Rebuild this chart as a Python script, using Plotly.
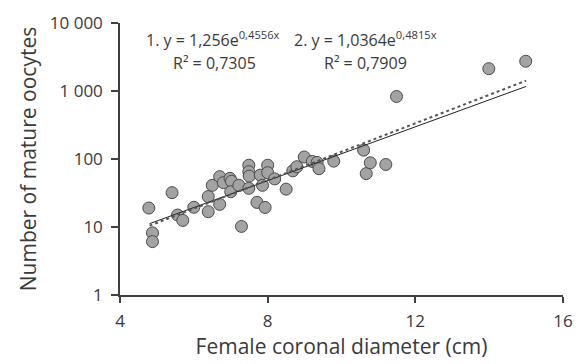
import numpy as np
import plotly.graph_objects as go

# Data
diameter_cm = [4.78, 4.88, 4.88, 5.41, 5.56, 5.70, 6.00, 6.39, 6.39, 6.50,
               6.70, 6.70, 6.80, 6.98, 7.02, 7.00, 7.22, 7.29, 7.49, 7.49,
               7.50, 7.49, 7.71, 7.80, 7.86, 7.93, 8.00, 8.00, 8.19, 8.50,
               8.68, 8.79, 8.99, 9.21, 9.34, 9.39, 9.79, 10.60, 10.67, 10.78,
               11.20, 11.49, 13.99, 14.99]
mature_oocytes = [19, 8.2, 6.1, 32, 15, 12.5, 19.5, 28, 16.8, 41,
                  21.5, 55, 45, 52, 47, 33, 41, 10.2, 81, 65,
                  56, 37, 23, 58, 41, 19.4, 81, 63, 51, 36,
                  67, 77, 107, 92, 89, 72, 93, 135, 61, 88,
                  83, 830, 2130, 2740]

# Fitted exponential trendlines (from the equations shown)
fit1 = (1.256, 0.4556)
fit2 = (1.0364, 0.4815)
fit_x_range = [4.8, 15.0]

x_ticks = [4, 8, 12, 16]
y_ticks = [1, 10, 100, 1000, 10000]
y_ticktext = ["1", "10", "100", "1 000", "10 000"]

FONT = "Open Sans"
TXT = "#3a3a3a"

xf = np.linspace(fit_x_range[0], fit_x_range[1], 60)
fig = go.Figure()
fig.add_trace(go.Scatter(x=diameter_cm, y=mature_oocytes, mode="markers",
                         marker=dict(size=12, color="#a3a3a3",
                                     line=dict(color="#4a4a4a", width=1)),
                         showlegend=False))
fig.add_trace(go.Scatter(x=xf, y=fit1[0] * np.exp(fit1[1] * xf), mode="lines",
                         line=dict(color="#222222", width=1), showlegend=False))
fig.add_trace(go.Scatter(x=xf, y=fit2[0] * np.exp(fit2[1] * xf), mode="lines",
                         line=dict(color="#555555", width=2, dash="dot"), showlegend=False))

L, R, T, B = 120, 11, 16, 66
W, H = 584, 364
pw, ph = W - L - R, H - T - B

def px(xp):
    return (xp - L) / pw

def py(yp):
    return (H - B - yp) / ph

annots = [
    ("1. y = 1,256e<sup>0,4556x</sup>", 145, 33),
    ("2. y = 1,0364e<sup>0,4815x</sup>", 296, 33),
    ("R² = 0,7305", 172, 57),
    ("R² = 0,7909", 327, 57),
]
for text, xp, yp in annots:
    fig.add_annotation(text=text, x=px(xp), y=py(yp), xref="paper", yref="paper",
                       xanchor="left", yanchor="middle", showarrow=False,
                       font=dict(family=FONT, size=16, color=TXT))

fig.update_layout(
    width=W, height=H, margin=dict(l=L, r=R, t=T, b=B),
    paper_bgcolor="white", plot_bgcolor="white",
    font=dict(family=FONT, color=TXT),
)
fig.update_xaxes(range=[4, 16], tickvals=x_ticks, showgrid=False, zeroline=False,
                 showline=True, linecolor="#404040", linewidth=1.5,
                 ticks="outside", ticklen=6, tickcolor="#404040", tickwidth=1.5,
                 ticklabelstandoff=4,
                 tickfont=dict(family=FONT, size=17, color=TXT),
                 title=dict(text="Female coronal diameter (cm)", standoff=6,
                            font=dict(family=FONT, size=21, color=TXT)))
fig.update_yaxes(type="log", range=[0, 4], tickvals=y_ticks, ticktext=y_ticktext,
                 showgrid=False, zeroline=False,
                 showline=True, linecolor="#404040", linewidth=1.5,
                 ticks="outside", ticklen=7, tickcolor="#404040", tickwidth=1.5,
                 ticklabelstandoff=5,
                 tickfont=dict(family=FONT, size=17, color=TXT),
                 title=dict(text="Number of mature oocytes", standoff=7,
                            font=dict(family=FONT, size=21, color=TXT)))

fig.write_html("out.html")
